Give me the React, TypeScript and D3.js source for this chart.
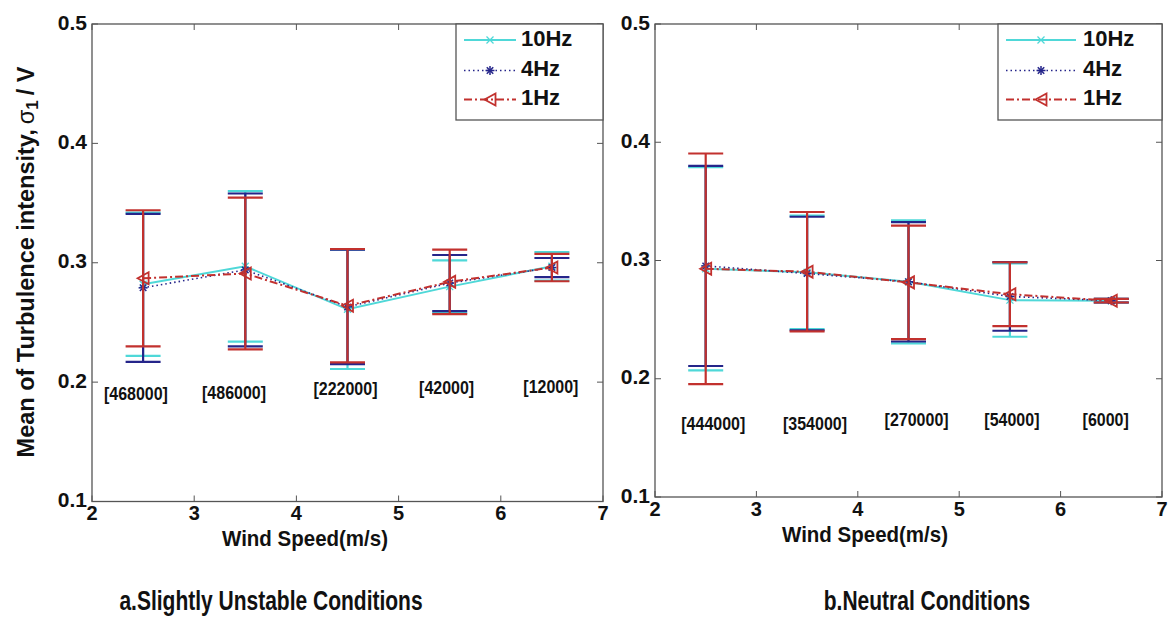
import React from 'react';
import * as d3 from 'd3';

// ---------- data ----------
const windSpeed = [2.5, 3.5, 4.5, 5.5, 6.5];
const seriesNames = ['10Hz', '4Hz', '1Hz'];
const xTicks = [2, 3, 4, 5, 6, 7];
const yTicks = [0.1, 0.2, 0.3, 0.4, 0.5];

// a. Slightly unstable
const unstable10Mean = [0.282, 0.297, 0.261, 0.280, 0.297];
const unstable10Err = [0.060, 0.063, 0.050, 0.022, 0.012];
const unstable4Mean = [0.279, 0.294, 0.263, 0.283, 0.296];
const unstable4Err = [0.062, 0.064, 0.048, 0.0235, 0.008];
const unstable1Mean = [0.287, 0.291, 0.264, 0.284, 0.296];
const unstable1Err = [0.057, 0.0636, 0.0475, 0.027, 0.0115];
const unstableCounts = ['[468000]', '[486000]', '[222000]', '[42000]', '[12000]'];
const unstableCountX = [2.43, 3.39, 4.48, 5.47, 6.49];
const unstableCountY = [0.189, 0.190, 0.193, 0.194, 0.195];

// b. Neutral
const neutral10Mean = [0.293, 0.290, 0.282, 0.2665, 0.266];
const neutral10Err = [0.086, 0.048, 0.052, 0.031, 0.0015];
const neutral4Mean = [0.2954, 0.289, 0.282, 0.2696, 0.266];
const neutral4Err = [0.0846, 0.048, 0.0505, 0.029, 0.0015];
const neutral1Mean = [0.293, 0.2905, 0.2815, 0.2715, 0.266];
const neutral1Err = [0.0975, 0.0505, 0.048, 0.027, 0.0015];
const neutralCounts = ['[444000]', '[354000]', '[270000]', '[54000]', '[6000]'];
const neutralCountX = [2.575, 3.578, 4.58, 5.52, 6.445];
const neutralCountY = [0.161, 0.161, 0.164, 0.164, 0.164];

// ---------- styles ----------
const FONT = '"Liberation Sans", Arial, Helvetica, sans-serif';
const COLORS = ['#4fd8d8', '#25258a', '#c2312e'];
const DASH = ['none', '1.5,3', '8,3,2,3'];
const LW = [2, 1.6, 2];
const CAP = 17.5;

type Series = { mean: number[]; err: number[] };

function Marker({ kind, x, y, color }: { kind: number; x: number; y: number; color: string }) {
  if (kind === 0) {
    const s = 3.5;
    return (
      <g stroke={color} strokeWidth={1.3}>
        <line x1={x - s} y1={y - s} x2={x + s} y2={y + s} />
        <line x1={x - s} y1={y + s} x2={x + s} y2={y - s} />
      </g>
    );
  }
  if (kind === 1) {
    const s = 4.5;
    const d = s * 0.72;
    return (
      <g stroke={color} strokeWidth={1.5}>
        <line x1={x - s} y1={y} x2={x + s} y2={y} />
        <line x1={x} y1={y - s} x2={x} y2={y + s} />
        <line x1={x - d} y1={y - d} x2={x + d} y2={y + d} />
        <line x1={x - d} y1={y + d} x2={x + d} y2={y - d} />
      </g>
    );
  }
  const w = 5.5;
  return (
    <path
      d={`M${x - w},${y} L${x + w},${y - 6} L${x + w},${y + 6} Z`}
      fill="none"
      stroke={color}
      strokeWidth={1.8}
    />
  );
}

function StretchText({
  x,
  y,
  sy,
  size,
  anchor = 'middle',
  children,
}: {
  x: number;
  y: number;
  sy: number;
  size: number;
  anchor?: string;
  children: React.ReactNode;
}) {
  return (
    <text
      transform={`translate(${x},${y}) scale(1,${sy})`}
      textAnchor={anchor}
      dominantBaseline="middle"
      fontFamily={FONT}
      fontWeight="bold"
      fontSize={size}
      fill="#111"
    >
      {children}
    </text>
  );
}

function Panel({
  xRange,
  yRange,
  series,
  counts,
  countX,
  countY,
  legendX,
  legendLine,
  xLabelX,
  title,
  titleX,
}: {
  xRange: [number, number];
  yRange: [number, number];
  series: Series[];
  counts: string[];
  countX: number[];
  countY: number[];
  legendX: number;
  legendLine: [number, number, number];
  xLabelX: number;
  title: string;
  titleX: number;
}) {
  const x = d3.scaleLinear().domain([2, 7]).range(xRange);
  const y = d3.scaleLinear().domain([0.1, 0.5]).range(yRange);
  const [x0, x1] = xRange;
  const [yb, yt] = yRange;
  const fmt = d3.format('.1f');
  const line = d3
    .line<number>()
    .x((_, i) => x(windSpeed[i]))
    .y((d) => y(d));
  const tick = 6;
  const axisColor = '#555';
  const legendRows = [40, 70.5, 99.5];
  return (
    <g>
      {/* series */}
      {series.map((s, k) => (
        <g key={k}>
          {s.mean.map((m, i) => {
            const cx = x(windSpeed[i]);
            const lo = y(m - s.err[i]);
            const hi = y(m + s.err[i]);
            return (
              <g key={i} stroke={COLORS[k]} strokeWidth={2.2}>
                <line x1={cx} x2={cx} y1={lo} y2={hi} />
                <line x1={cx - CAP} x2={cx + CAP} y1={lo} y2={lo} />
                <line x1={cx - CAP} x2={cx + CAP} y1={hi} y2={hi} />
              </g>
            );
          })}
          <path
            d={line(s.mean) || ''}
            fill="none"
            stroke={COLORS[k]}
            strokeWidth={LW[k]}
            strokeDasharray={DASH[k]}
          />
          {s.mean.map((m, i) => (
            <Marker key={i} kind={k} x={x(windSpeed[i])} y={y(m)} color={COLORS[k]} />
          ))}
        </g>
      ))}

      {/* count labels */}
      {counts.map((c, i) => (
        <StretchText key={c} x={x(countX[i])} y={y(countY[i])} sy={1.15} size={16}>
          {c}
        </StretchText>
      ))}

      {/* box */}
      <rect x={x0} y={yt} width={x1 - x0} height={yb - yt} fill="none" stroke={axisColor} strokeWidth={1.3} />
      {xTicks.map((t) => (
        <g key={t} stroke={axisColor} strokeWidth={1}>
          <line x1={x(t)} x2={x(t)} y1={yb} y2={yb - tick} />
          <line x1={x(t)} x2={x(t)} y1={yt} y2={yt + tick} />
        </g>
      ))}
      {yTicks.map((t) => (
        <g key={t} stroke={axisColor} strokeWidth={1}>
          <line x1={x0} x2={x0 + tick} y1={y(t)} y2={y(t)} />
          <line x1={x1} x2={x1 - tick} y1={y(t)} y2={y(t)} />
        </g>
      ))}
      {xTicks.map((t) => (
        <StretchText key={t} x={x(t)} y={yb + 13} sy={1.05} size={20}>
          {t}
        </StretchText>
      ))}
      {yTicks.map((t) => (
        <text
          key={t}
          x={x0 - 5}
          y={y(t)}
          textAnchor="end"
          dominantBaseline="middle"
          fontFamily={FONT}
          fontWeight="bold"
          fontSize={21}
          fill="#111"
        >
          {fmt(t)}
        </text>
      ))}
      <StretchText x={xLabelX} y={yb + 39} sy={1.1} size={20.5}>
        Wind Speed(m/s)
      </StretchText>
      <StretchText x={titleX} y={603} sy={1.3} size={21}>
        {title}
      </StretchText>

      {/* legend */}
      <rect x={legendX} y={yt} width={x1 - legendX} height={120 - yt} fill="#fff" stroke={axisColor} strokeWidth={1.3} />
      {seriesNames.map((n, k) => (
        <g key={n}>
          <line
            x1={legendLine[0]}
            x2={legendLine[1]}
            y1={legendRows[k]}
            y2={legendRows[k]}
            stroke={COLORS[k]}
            strokeWidth={LW[k]}
            strokeDasharray={DASH[k]}
          />
          <Marker kind={k} x={(legendLine[0] + legendLine[1]) / 2} y={legendRows[k]} color={COLORS[k]} />
          <text
            x={legendLine[2]}
            y={legendRows[k]}
            dominantBaseline="middle"
            fontFamily={FONT}
            fontWeight="bold"
            fontSize={22}
            fill="#111"
          >
            {n}
          </text>
        </g>
      ))}
    </g>
  );
}

export default function App() {
  const unstable: Series[] = [
    { mean: unstable10Mean, err: unstable10Err },
    { mean: unstable4Mean, err: unstable4Err },
    { mean: unstable1Mean, err: unstable1Err },
  ];
  const neutral: Series[] = [
    { mean: neutral10Mean, err: neutral10Err },
    { mean: neutral4Mean, err: neutral4Err },
    { mean: neutral1Mean, err: neutral1Err },
  ];
  return (
    <svg
      width={1173}
      height={628}
      style={{ position: 'absolute', left: 0, top: 0, background: '#fff' }}
    >
      <rect width={1173} height={628} fill="#fff" />
      <Panel
        xRange={[92, 603]}
        yRange={[501.5, 24]}
        series={unstable}
        counts={unstableCounts}
        countX={unstableCountX}
        countY={unstableCountY}
        legendX={456}
        legendLine={[464, 516, 521]}
        xLabelX={305}
        title="a.Slightly Unstable Conditions"
        titleX={271}
      />
      <Panel
        xRange={[655, 1162]}
        yRange={[497, 24]}
        series={neutral}
        counts={neutralCounts}
        countX={neutralCountX}
        countY={neutralCountY}
        legendX={998}
        legendLine={[1006, 1076, 1083]}
        xLabelX={865}
        title="b.Neutral Conditions"
        titleX={927}
      />
      <text
        transform="translate(28,262) rotate(-90)"
        textAnchor="middle"
        dominantBaseline="middle"
        fontFamily={FONT}
        fontWeight="bold"
        fontSize={23.5}
        fill="#111"
      >
        Mean of Turbulence intensity,
        <tspan fontWeight="normal" dx={5}>σ</tspan>
        <tspan fontSize={17} dy={6}>1</tspan>
        <tspan dy={-6} dx={5}>/ V</tspan>
      </text>
    </svg>
  );
}
